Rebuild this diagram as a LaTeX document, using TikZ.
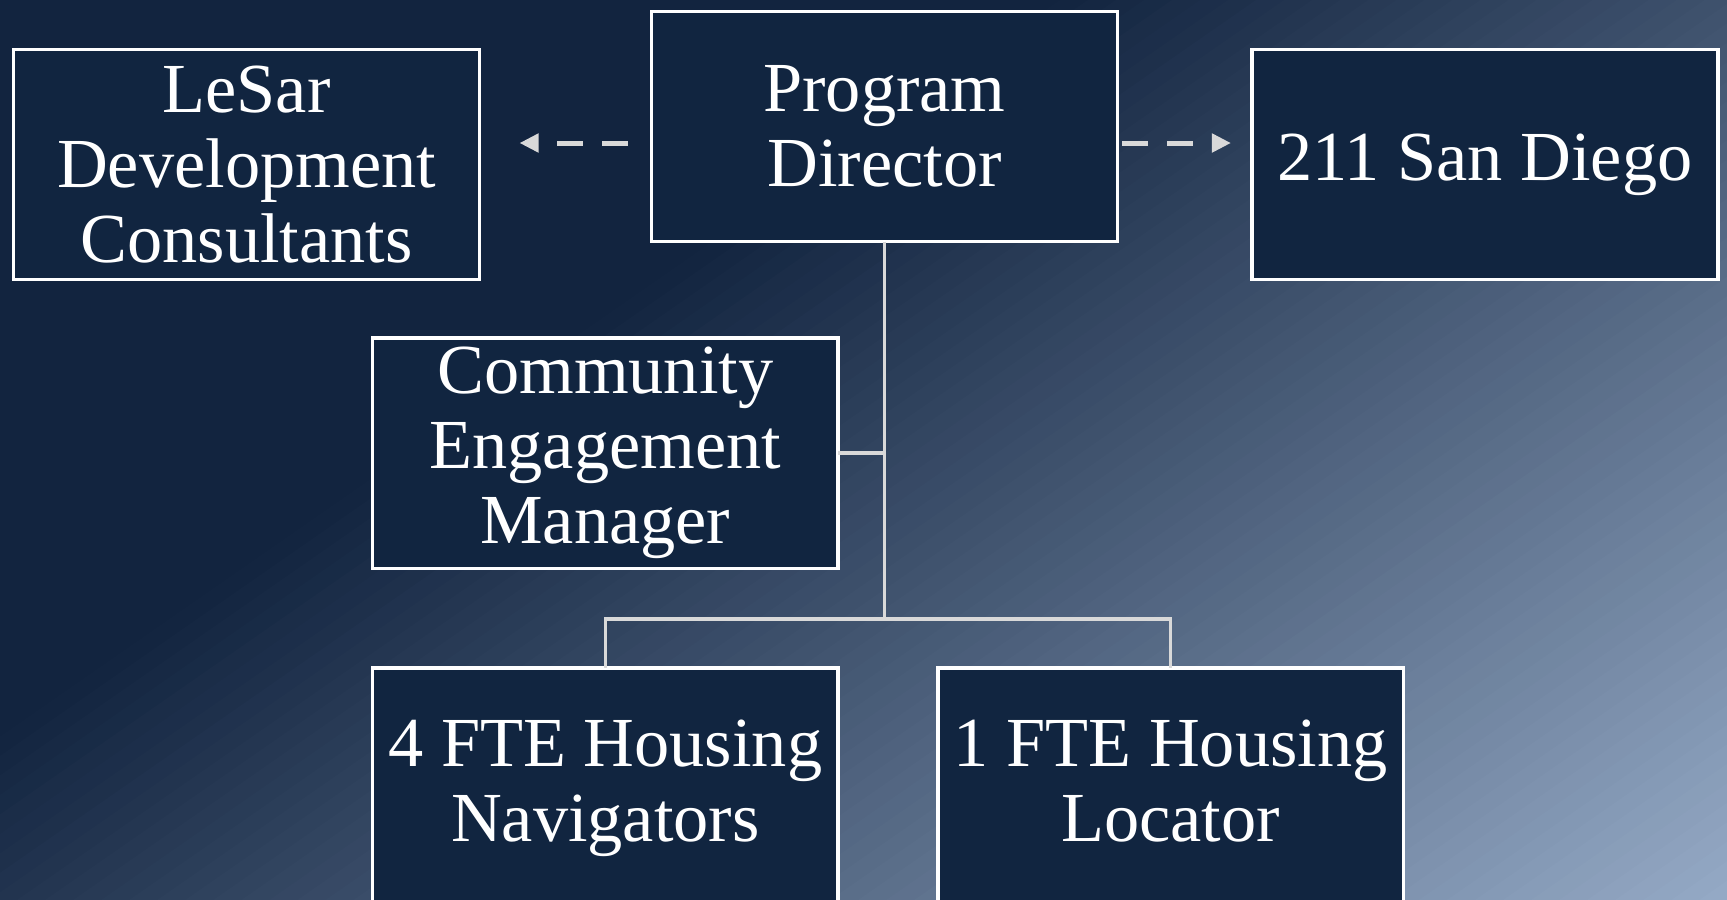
\documentclass[tikz,border=0pt]{standalone}
\usepackage{fontspec}
\setmainfont{Liberation Serif}
\usepackage{xcolor}
\usepackage{tikz}
\usetikzlibrary{calc}
\usetikzlibrary{positioning}
\usetikzlibrary{arrows.meta}

\definecolor{bgdark}{RGB}{18,36,63}
\definecolor{bglight}{RGB}{149,170,198}
\definecolor{boxfill}{RGB}{17,37,64}
\definecolor{linkgray}{RGB}{217,217,217}

\begin{document}
\begin{tikzpicture}[
    x = .01cm,
    y = -.01cm,
    font = \fontsize{20pt}{21.3pt}\selectfont,
    boxf/.style = {
      rectangle,
      draw=white,
      fill=boxfill,
      line width=.035cm,
      text=white,
      align=center,
      minimum width=4.655cm,
      minimum height=2.3cm,
      inner sep=0pt,
      outer sep=0pt
    },
    linkf/.style = {
      draw=linkgray,
      line width=.035cm
    },
    dashf/.style = {
      draw=linkgray,
      line width=.05cm,
      dash pattern=on .26cm off .19cm,
      -{Triangle[length=.19cm,width=.18cm]}
    }
  ]
    \useasboundingbox (0,0) rectangle (1727,900);

    % diagonal background, dark top left to light bottom right
    \begin{scope}
      \clip (0,0) rectangle (1727,900);
      \fill[bgdark] (0,0) rectangle (1727,900);
      \foreach \i in {0,...,69} {
        \pgfmathsetmacro{\pa}{604.7+16*\i}
        \pgfmathsetmacro{\pb}{\pa+17}
        \pgfmathsetmacro{\pct}{(\i+0.5)/0.7}
        \fill[bglight!\pct!bgdark] ({0.5707*\pa-1642.4},{0.8212*\pa+1141.4}) -- ({0.5707*\pb-1642.4},{0.8212*\pb+1141.4}) -- ({0.5707*\pb+1642.4},{0.8212*\pb-1141.4}) -- ({0.5707*\pa+1642.4},{0.8212*\pa-1141.4}) -- cycle;
      }
    \end{scope}

    \node[boxf] (dir) at (884.5,126.5) {Program\\Director};
    \node[boxf] (lesar) [left=1.72cm of dir, yshift=-.38cm] {LeSar\\Development\\Consultants};
    \node[boxf] (sd) [right=1.345cm of dir, yshift=-.38cm] {211 San Diego};
    \node[boxf] (cem) [below=.965cm of dir, xshift=-2.79cm] {Community\\Engagement\\Manager};
    \node[boxf, minimum height=2.4cm] (nav) [below=.995cm of cem] {4 FTE Housing\\Navigators};
    \node[boxf, minimum height=2.4cm] (loc) [right=.995cm of nav] {1 FTE Housing\\Locator\vphantom{g}};

    \coordinate (split) at ($(nav.north -| dir.south)+(0,.49cm)$);
    \draw[linkf] (dir.south) -- (split);
    \draw[linkf] (nav.north) |- (split) -| (loc.north);
    \draw[linkf] (cem.east) -- (cem.east -| dir.south);

    \coordinate (lsrc) at ([xshift=-.24cm,yshift=-.165cm]dir.west);
    \coordinate (rsrc) at ([xshift=.05cm,yshift=-.165cm]dir.east);
    \draw[dashf, shorten >=.40cm] (lsrc) -- (lsrc -| lesar.east);
    \draw[dashf, shorten >=.21cm] (rsrc) -- (rsrc -| sd.west);

  \end{tikzpicture}
\end{document}
